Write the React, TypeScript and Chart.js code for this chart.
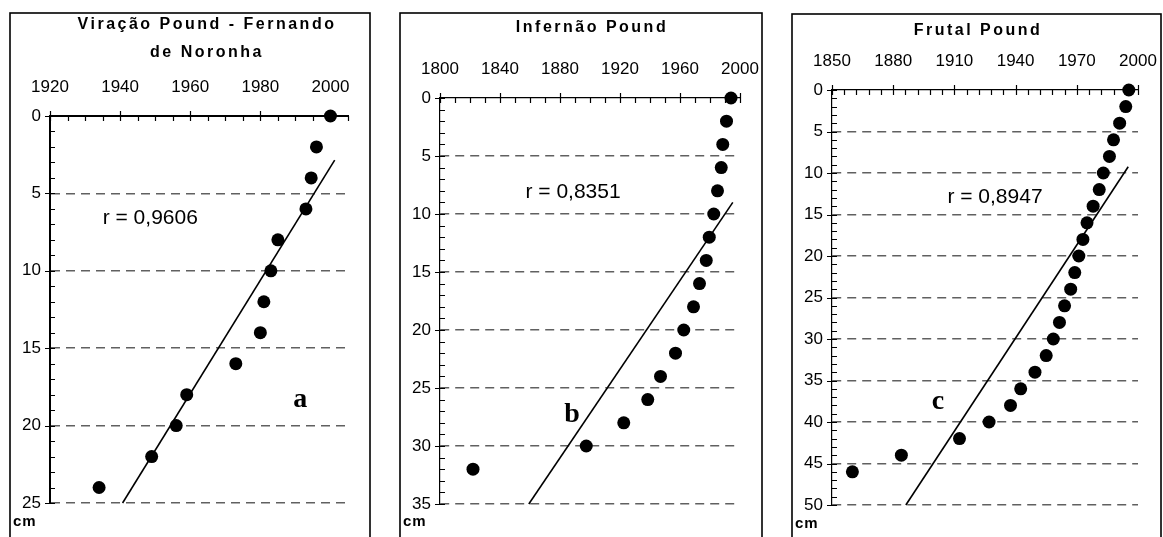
import React, { useEffect, useRef } from "react";
import { Chart, registerables } from "chart.js";

Chart.register(...registerables);

// ---------- Panel a : Viração Pound - Fernando de Noronha ----------
const yearsA = [2000, 1996, 1994.5, 1993, 1985, 1983, 1981, 1980, 1973, 1959, 1956, 1949, 1934];
const depthsA = [0, 2, 4, 6, 8, 10, 12, 14, 16, 18, 20, 22, 24];
const trendYearsA = [1940.7, 2001.2];
const trendDepthsA = [25, 2.85];
const xLabelsA = [1920, 1940, 1960, 1980, 2000];
const yLabelsA = [0, 5, 10, 15, 20, 25];

// ---------- Panel b : Infernão Pound ----------
const yearsB = [1994, 1991, 1988.5, 1987.5, 1985, 1982.5, 1979.5, 1977.5, 1973, 1969, 1962.5, 1957, 1947, 1938.5, 1922.5, 1897.5, 1822];
const depthsB = [0, 2, 4, 6, 8, 10, 12, 14, 16, 18, 20, 22, 24, 26, 28, 30, 32];
const trendYearsB = [1859.2, 1995.2];
const trendDepthsB = [35, 9];
const xLabelsB = [1800, 1840, 1880, 1920, 1960, 2000];
const yLabelsB = [0, 5, 10, 15, 20, 25, 30, 35];

// ---------- Panel c : Frutal Pound ----------
const yearsC = [1995.5, 1994, 1991, 1988, 1986, 1983, 1981, 1978, 1975, 1973, 1971, 1969, 1967, 1964, 1961.5, 1958.5, 1955, 1949.5, 1942.5, 1937.5, 1927, 1912.5, 1884, 1860];
const depthsC = [0, 2, 4, 6, 8, 10, 12, 14, 16, 18, 20, 22, 24, 26, 28, 30, 32, 34, 36, 38, 40, 42, 44, 46];
const trendYearsC = [1886.2, 1995.2];
const trendDepthsC = [50, 9.25];
const xLabelsC = [1850, 1880, 1910, 1940, 1970, 2000];
const yLabelsC = [0, 5, 10, 15, 20, 25, 30, 35, 40, 45, 50];

const FONT = "Arial, 'Liberation Sans', sans-serif";

type PanelCfg = {
  left: number; top: number; width: number; height: number;
  yw: number; xh: number; pr: number; pb: number;
  years: number[]; depths: number[]; tYears: number[]; tDepths: number[];
  xMin: number; xMax: number; xStep: number; xLabels: number[];
  yMax: number; yLabels: number[];
  axisW: number;
  title: string[]; titleX: number; titleY: number[];
  rText: string; rAt: [number, number];
  letter: string; letterAt: [number, number];
  cmAt: [number, number];
};

const panels: PanelCfg[] = [
  {
    left: 9, top: 12, width: 362, height: 525, yw: 41, xh: 104, pr: 23, pb: 34,
    years: yearsA, depths: depthsA, tYears: trendYearsA, tDepths: trendDepthsA,
    xMin: 1920, xMax: 2005, xStep: 5, xLabels: xLabelsA, yMax: 25, yLabels: yLabelsA,
    axisW: 2,
    title: ["Viração Pound - Fernando", "de Noronha"], titleX: 198, titleY: [13, 41],
    rText: "r = 0,9606", rAt: [1948.6, 6.6],
    letter: "a", letterAt: [1991.4, 18.3],
    cmAt: [4, 510],
  },
  {
    left: 399, top: 12, width: 364, height: 525, yw: 41, xh: 86, pr: 23, pb: 33,
    years: yearsB, depths: depthsB, tYears: trendYearsB, tDepths: trendDepthsB,
    xMin: 1800, xMax: 2000, xStep: 10, xLabels: xLabelsB, yMax: 35, yLabels: yLabelsB,
    axisW: 1.2,
    title: ["Infernão Pound"], titleX: 193, titleY: [16],
    rText: "r = 0,8351", rAt: [1888.7, 8.1],
    letter: "b", letterAt: [1888, 27.3],
    cmAt: [4, 510],
  },
  {
    left: 791, top: 13, width: 371, height: 524, yw: 41, xh: 77, pr: 24, pb: 32,
    years: yearsC, depths: depthsC, tYears: trendYearsC, tDepths: trendDepthsC,
    xMin: 1850, xMax: 2000, xStep: 6, xLabels: xLabelsC, yMax: 50, yLabels: yLabelsC,
    axisW: 1.2,
    title: ["Frutal Pound"], titleX: 187, titleY: [18],
    rText: "r = 0,8947", rAt: [1929.9, 12.9],
    letter: "c", letterAt: [1902, 37.6],
    cmAt: [4, 511],
  },
];

function Panel({ cfg }: { cfg: PanelCfg }) {
  const ref = useRef<HTMLCanvasElement | null>(null);
  useEffect(() => {
    if (!ref.current) return;
    const pts = cfg.years.map((x, i) => ({ x, y: cfg.depths[i] }));
    const trend = cfg.tYears.map((x, i) => ({ x, y: cfg.tDepths[i] }));

    const decor = {
      id: "decor",
      beforeDatasetsDraw(chart: any) {
        const ctx = chart.ctx as CanvasRenderingContext2D;
        const xs = chart.scales.x;
        const ys = chart.scales.y;
        const { top, left } = chart.chartArea;
        ctx.save();
        ctx.strokeStyle = "#000";
        ctx.lineWidth = 1.2;
        ctx.beginPath();
        xs.ticks.forEach((t: any) => {
          const px = Math.round(xs.getPixelForValue(t.value)) + 0.5;
          const major = cfg.xLabels.includes(t.value);
          ctx.moveTo(px, major ? top - 5 : top);
          ctx.lineTo(px, top + 5);
        });
        ys.ticks.forEach((t: any) => {
          const py = Math.round(ys.getPixelForValue(t.value)) + 0.5;
          const major = cfg.yLabels.includes(t.value);
          ctx.moveTo(major ? left - 5 : left, py);
          ctx.lineTo(left + 5, py);
        });
        ctx.stroke();
        ctx.restore();
      },
      afterDraw(chart: any) {
        const ctx = chart.ctx as CanvasRenderingContext2D;
        const xs = chart.scales.x;
        const ys = chart.scales.y;
        ctx.save();
        // frame
        ctx.strokeStyle = "#000";
        ctx.lineWidth = 1.6;
        ctx.strokeRect(1, 1, chart.width - 2, chart.height + 20);
        // title
        ctx.fillStyle = "#000";
        ctx.textAlign = "center";
        ctx.textBaseline = "middle";
        ctx.font = `bold 16px ${FONT}`;
        (ctx as any).letterSpacing = "2.5px";
        cfg.title.forEach((line, i) => ctx.fillText(line, cfg.titleX, cfg.titleY[i]));
        (ctx as any).letterSpacing = "0px";
        // r value
        ctx.font = `21px ${FONT}`;
        ctx.fillText(cfg.rText, xs.getPixelForValue(cfg.rAt[0]), ys.getPixelForValue(cfg.rAt[1]));
        // panel letter
        ctx.font = `bold 28px 'Liberation Serif', 'Times New Roman', serif`;
        ctx.fillText(cfg.letter, xs.getPixelForValue(cfg.letterAt[0]), ys.getPixelForValue(cfg.letterAt[1]));
        // unit
        ctx.textAlign = "left";
        ctx.font = `bold 15px ${FONT}`;
        (ctx as any).letterSpacing = "1px";
        ctx.fillText("cm", cfg.cmAt[0], cfg.cmAt[1]);
        ctx.restore();
      },
    };

    const chart = new Chart(ref.current, {
      type: "scatter",
      data: {
        datasets: [
          {
            data: pts,
            pointRadius: 6.5,
            pointHoverRadius: 6.5,
            backgroundColor: "#000",
            borderColor: "#000",
            borderWidth: 0,
            clip: false as any,
          },
          {
            data: trend,
            showLine: true,
            pointRadius: 0,
            borderColor: "#000",
            borderWidth: 1.6,
            clip: false as any,
          },
        ],
      },
      options: {
        animation: false,
        responsive: false,
        devicePixelRatio: 1,
        events: [],
        layout: { padding: { left: 0, top: 0, right: cfg.pr, bottom: cfg.pb } },
        plugins: { legend: { display: false }, tooltip: { enabled: false }, title: { display: false } },
        scales: {
          x: {
            type: "linear",
            position: "top",
            min: cfg.xMin,
            max: cfg.xMax,
            afterFit: (s: any) => {
              s.height = cfg.xh;
              s.paddingLeft = 0;
              s.paddingRight = 0;
            },
            ticks: {
              stepSize: cfg.xStep,
              autoSkip: false,
              maxRotation: 0,
              minRotation: 0,
              padding: 18,
              color: "#000",
              font: { family: FONT, size: 17 },
              callback: (v: any) => (cfg.xLabels.includes(Number(v)) ? String(v) : ""),
            },
            grid: { display: false, drawTicks: false },
            border: { display: true, color: "#000", width: cfg.axisW },
          },
          y: {
            type: "linear",
            position: "left",
            reverse: true,
            min: 0,
            max: cfg.yMax,
            afterFit: (s: any) => {
              s.width = cfg.yw;
              s.paddingTop = 0;
              s.paddingBottom = 0;
            },
            ticks: {
              stepSize: 1,
              autoSkip: false,
              padding: 9,
              color: "#000",
              font: { family: FONT, size: 17 },
              callback: (v: any) => (cfg.yLabels.includes(Number(v)) ? String(v) : ""),
            },
            grid: {
              drawTicks: false,
              lineWidth: 1.5,
              color: (c: any) =>
                c.tick && cfg.yLabels.includes(c.tick.value) && c.tick.value !== 0 ? "#606060" : "rgba(0,0,0,0)",
            },
            border: { display: true, color: "#000", width: cfg.axisW, dash: [9, 6] },
          },
        },
      } as any,
      plugins: [decor],
    });
    return () => chart.destroy();
  }, [cfg]);

  return (
    <div style={{ position: "absolute", left: cfg.left, top: cfg.top, width: cfg.width, height: cfg.height }}>
      <canvas ref={ref} width={cfg.width} height={cfg.height} style={{ width: cfg.width, height: cfg.height, display: "block" }} />
    </div>
  );
}

export default function App() {
  return (
    <div style={{ position: "fixed", left: 0, top: 0, width: 1163, height: 537, overflow: "hidden", background: "#fff" }}>
      {panels.map((p, i) => (
        <Panel key={i} cfg={p} />
      ))}
    </div>
  );
}
